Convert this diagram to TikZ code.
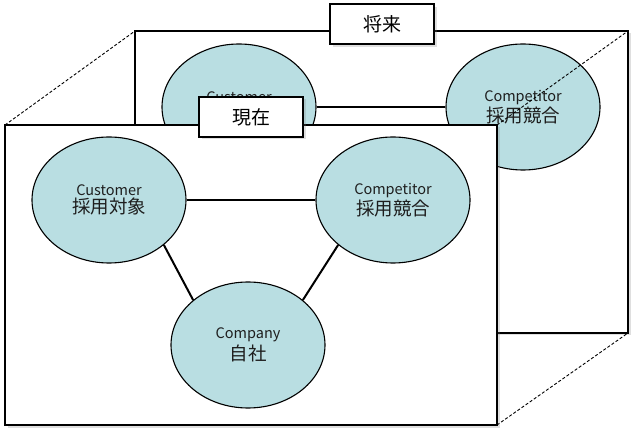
\documentclass[tikz,border=0pt]{standalone}
\usepackage{fontspec}
\setmainfont{Noto Sans CJK JP}
\usetikzlibrary{shapes.geometric,shadows}
\definecolor{bubble}{RGB}{185,222,226}
\definecolor{txt}{RGB}{30,30,30}
\tikzset{
  bub/.style={ellipse, draw=black, line width=1.1pt, fill=bubble,
    minimum width=154pt, minimum height=126pt, inner sep=0pt, align=center,
    text=txt},
  panel/.style={draw=black, line width=2pt, fill=white,
    drop shadow={opacity=0.25, shadow xshift=2.5pt, shadow yshift=-2.5pt}},
  tag/.style={draw=black, line width=2pt, fill=white, minimum width=104pt,
    minimum height=40pt, inner sep=0pt, font=\fontsize{19}{22}\selectfont,
    drop shadow={opacity=0.25, shadow xshift=2.5pt, shadow yshift=-2.5pt}},
  link/.style={draw=black, line width=2pt},
  edge3d/.style={draw=black, line width=0.9pt, dash pattern=on 3pt off 2pt},
}
\newcommand{\lat}[1]{{\fontsize{14.5}{16}\selectfont #1}}
\newcommand{\jp}[1]{{\fontsize{18.5}{22}\selectfont #1}}
\begin{document}
\begin{tikzpicture}[x=1pt,y=-1pt]
\fill[white] (0,0) rectangle (640,438);
\useasboundingbox (0,0) rectangle (640,438);
% back panel
\coordinate (btl) at (135,31);
\coordinate (btr) at (628,31);
\coordinate (bbr) at (628,333);
\path[panel] (btl) rectangle (bbr);
\node[bub] (bcust) at (239,107) {\lat{Customer}\\[1.5pt]\jp{採用対象}};
\node[bub] (bcomp) at (523,107) {\lat{Competitor}\\[1.5pt]\jp{採用競合}};
\draw[link] (bcust) -- (bcomp);
\node[tag] (future) at (382,24.5) {将来};
% depth edges
\coordinate (ftl) at (5,125);
\coordinate (ftr) at (497,125);
\coordinate (fbr) at (497,425);
\draw[edge3d] (ftl) -- (btl);
\draw[edge3d] (ftr) -- (btr);
\draw[edge3d] (fbr) -- (bbr);
% front panel
\path[panel] (ftl) rectangle (fbr);
\node[bub] (cust) at (109,200) {\lat{Customer}\\[1.5pt]\jp{採用対象}};
\node[bub] (compet) at (393,200) {\lat{Competitor}\\[1.5pt]\jp{採用競合}};
\node[bub] (self) at (248,345) {\lat{Company}\\[1.5pt]\jp{自社}};
\draw[link] (cust) -- (compet);
\draw[link] (cust.south east) -- (self.north west);
\draw[link] (compet.south west) -- (self.north east);
\node[tag] (now) at (251,117) {現在};
\end{tikzpicture}
\end{document}
